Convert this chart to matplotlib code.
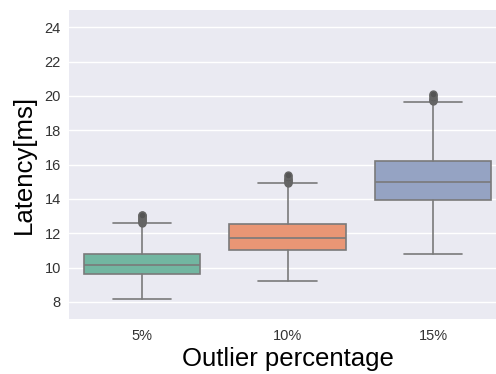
import matplotlib
matplotlib.use("Agg")
import matplotlib.pyplot as plt
import seaborn as sns

categories = ["5%", "10%", "15%"]
whislo = [8.16, 9.22, 10.78]
q1 = [9.61, 11.02, 13.93]
med = [10.13, 11.70, 15.00]
q3 = [10.79, 12.54, 16.20]
whishi = [12.58, 14.90, 19.62]
fliers = [
    [12.62, 12.66, 12.70, 12.75, 12.80, 12.86, 12.92, 12.98, 13.03, 13.07],
    [14.95, 15.00, 15.05, 15.10, 15.17, 15.24, 15.31, 15.38],
    [19.68, 19.75, 19.82, 19.90, 19.98, 20.05, 20.13],
]
yticks = [8, 10, 12, 14, 16, 18, 20, 22, 24]

sns.set_theme(style="darkgrid")
plt.rcParams['font.family'] = ['Liberation Sans', 'DejaVu Sans']

fig = plt.figure(figsize=(4.96, 3.74), dpi=100)
ax = fig.add_axes([69.25 / 496, 55 / 374, (505.75 - 69.25) / 496, 309 / 374])

stats = []
for i, c in enumerate(categories):
    stats.append(dict(label=c, whislo=whislo[i], q1=q1[i], med=med[i],
                      q3=q3[i], whishi=whishi[i], fliers=fliers[i]))

pal = [sns.desaturate(c, 0.75) for c in sns.color_palette("Set2", 3)]
lc = "#7a7a7a"
bp = ax.bxp(stats, positions=range(len(categories)), widths=0.8,
            patch_artist=True,
            boxprops=dict(edgecolor=lc, linewidth=1.2),
            whiskerprops=dict(color=lc, linewidth=1.2),
            capprops=dict(color=lc, linewidth=1.2),
            medianprops=dict(color=lc, linewidth=1.2),
            flierprops=dict(marker='o', markersize=5, markerfacecolor="#555555",
                            markeredgecolor="#666666", linestyle='none'))
for patch, col in zip(bp['boxes'], pal):
    patch.set_facecolor(col)

ax.set_xlim(-0.5, 2.5)
ax.set_ylim(7, 25)
ax.set_yticks(yticks)
ax.set_xticks(range(len(categories)))
ax.set_xticklabels(categories)
ax.xaxis.grid(False)
ax.tick_params(axis='both', labelsize=10.5, colors="#333333", length=0)
ax.tick_params(axis='y', pad=6)
ax.tick_params(axis='x', pad=7)
ax.set_xlabel("Outlier percentage", fontsize=18.5, color="black", labelpad=3)
ax.set_ylabel("Latency[ms]", fontsize=18.5, color="black", labelpad=6)
for s in ax.spines.values():
    s.set_visible(False)

fig.savefig("out.png", dpi=100)
